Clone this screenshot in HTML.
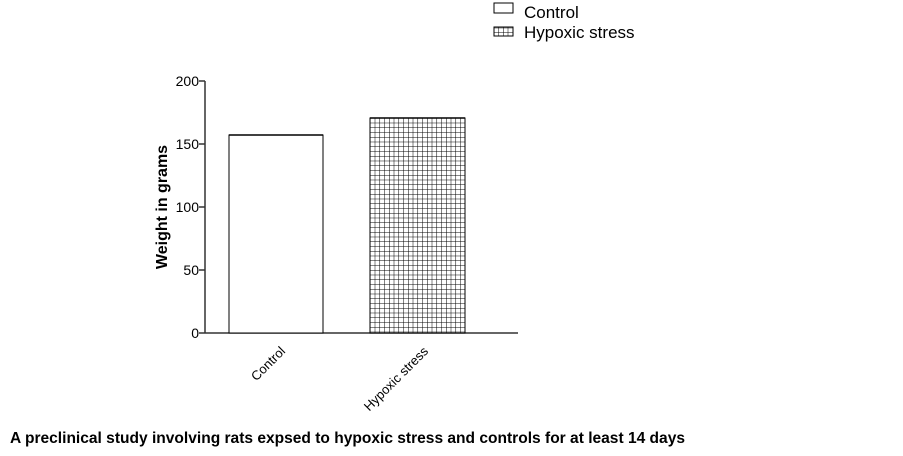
<!DOCTYPE html>
<html><head><style>body{margin:0;background:#fff;width:903px;height:451px;overflow:hidden}</style></head><body>
<svg width="903" height="451" xmlns="http://www.w3.org/2000/svg" font-family="Liberation Sans, Arial, sans-serif">
<defs><pattern id="g" width="4.75" height="4.75" patternUnits="userSpaceOnUse" x="370" y="118"><rect width="4.75" height="4.75" fill="#fff"/><path d="M0 0H4.75M0 0V4.75" stroke="#000" stroke-width="1"/></pattern></defs>
<rect x="494" y="3" width="19" height="10" fill="#fff" stroke="#000" stroke-width="1"/>
<text x="524" y="18" font-size="17">Control</text>
<rect x="494" y="27" width="19" height="9" fill="url(#g)" stroke="#000" stroke-width="1"/>
<text x="524" y="38" font-size="17">Hypoxic stress</text>
<g stroke="#333" stroke-width="1.5">
<line x1="205" y1="81" x2="205" y2="333"/>
<line x1="205" y1="333" x2="518" y2="333"/>
<line x1="199" y1="81" x2="205" y2="81"/><line x1="199" y1="144" x2="205" y2="144"/><line x1="199" y1="207" x2="205" y2="207"/><line x1="199" y1="270" x2="205" y2="270"/><line x1="199" y1="333" x2="205" y2="333"/>
</g>
<g font-size="14" text-anchor="end"><text x="199" y="86">200</text><text x="199" y="149">150</text><text x="199" y="212">100</text><text x="199" y="275">50</text><text x="199" y="338">0</text></g>
<text transform="translate(167,207) rotate(-90)" font-size="16" font-weight="bold" text-anchor="middle">Weight in grams</text>
<rect x="229" y="135" width="94" height="198" fill="#fff" stroke="#000" stroke-width="1"/>
<rect x="370" y="118" width="95" height="215" fill="url(#g)" stroke="#000" stroke-width="1"/>
<line x1="229" y1="135" x2="323" y2="135" stroke="#000" stroke-width="1.5"/>
<line x1="370" y1="118" x2="465" y2="118" stroke="#000" stroke-width="1.5"/>
<g font-size="13" text-anchor="end"><text transform="translate(286,352) rotate(-45)">Control</text><text transform="translate(429,352) rotate(-45)">Hypoxic stress</text></g>
<text x="10" y="443" font-size="15.5" font-weight="bold" textLength="675" lengthAdjust="spacingAndGlyphs">A preclinical study involving rats expsed to hypoxic stress and controls for at least 14 days</text>
</svg>
</body></html>
